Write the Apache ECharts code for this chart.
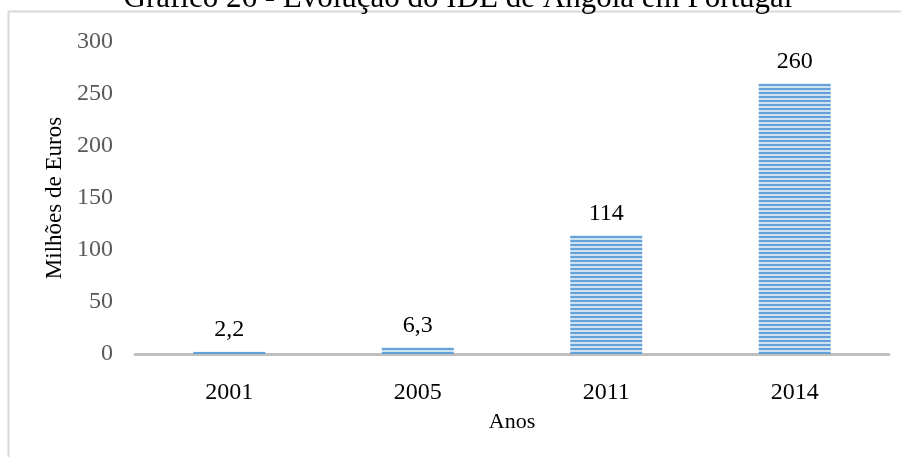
<!DOCTYPE html>
<html>
<head>
<meta charset="utf-8">
<script src="https://cdn.jsdelivr.net/npm/echarts@6/dist/echarts.min.js"></script>
<style>
html,body{margin:0;padding:0;background:#fff;}
#chart{width:901px;height:457px;}
</style>
</head>
<body>
<div id="chart"></div>
<script>
// IDE de Angola em Portugal (milhões de euros)
const anos = ['2001', '2005', '2011', '2014'];
const valores = [2.2, 6.3, 114, 260];
const rotulos = ['2,2', '6,3', '114', '260'];
const yTicks = [0, 50, 100, 150, 200, 250, 300];
const titulo = 'Gráfico 26 - Evolução do IDE de Angola em Portugal';

// horizontal stripe fill for the bars
function stripes() {
  const c = document.createElement('canvas');
  c.width = 4; c.height = 4;
  const g = c.getContext('2d');
  g.fillStyle = '#cfe2f4';
  g.fillRect(0, 0, 4, 4);
  g.fillStyle = '#64a1d8';
  g.fillRect(0, 0, 4, 2);
  return c;
}

const chart = echarts.init(document.getElementById('chart'), null, {renderer: 'canvas'});
const serif = '"Liberation Serif", "Times New Roman", serif';

chart.setOption({
  animation: false,
  backgroundColor: '#fff',
  graphic: [{
    type: 'rect',
    z: 0,
    shape: {x: 8.5, y: 11.5, width: 1000, height: 1000},
    style: {fill: null, stroke: '#d9d9d9', lineWidth: 2}
  }, {
    type: 'text',
    z: 10,
    x: 458,
    y: -1,
    style: {
      text: titulo,
      font: '31px "Liberation Serif", serif',
      fill: '#000',
      align: 'center',
      verticalAlign: 'middle'
    }
  }],
  grid: {left: 135, right: 12, top: 42, bottom: 103},
  xAxis: {
    type: 'category',
    data: anos,
    name: 'Anos',
    nameLocation: 'middle',
    nameGap: 57,
    nameTextStyle: {fontFamily: serif, fontSize: 22, color: '#000'},
    axisLine: {lineStyle: {color: '#bfbfbf', width: 3}},
    axisTick: {show: false},
    axisLabel: {fontFamily: serif, fontSize: 24, color: '#000', margin: 27}
  },
  yAxis: {
    type: 'value',
    min: yTicks[0],
    max: yTicks[yTicks.length - 1],
    interval: 50,
    name: 'Milhões de Euros',
    nameLocation: 'middle',
    nameGap: 65,
    nameTextStyle: {fontFamily: serif, fontSize: 23, color: '#000'},
    axisLine: {show: false},
    axisTick: {show: false},
    splitLine: {show: false},
    axisLabel: {fontFamily: serif, fontSize: 24, color: '#595959', margin: 22}
  },
  series: [{
    type: 'bar',
    data: valores,
    barWidth: 72,
    itemStyle: {color: {image: stripes(), repeat: 'repeat'}},
    label: {
      show: true,
      position: 'top',
      distance: 10,
      fontFamily: serif,
      fontSize: 24,
      color: '#000',
      formatter: p => rotulos[p.dataIndex]
    }
  }]
});
</script>
</body>
</html>
